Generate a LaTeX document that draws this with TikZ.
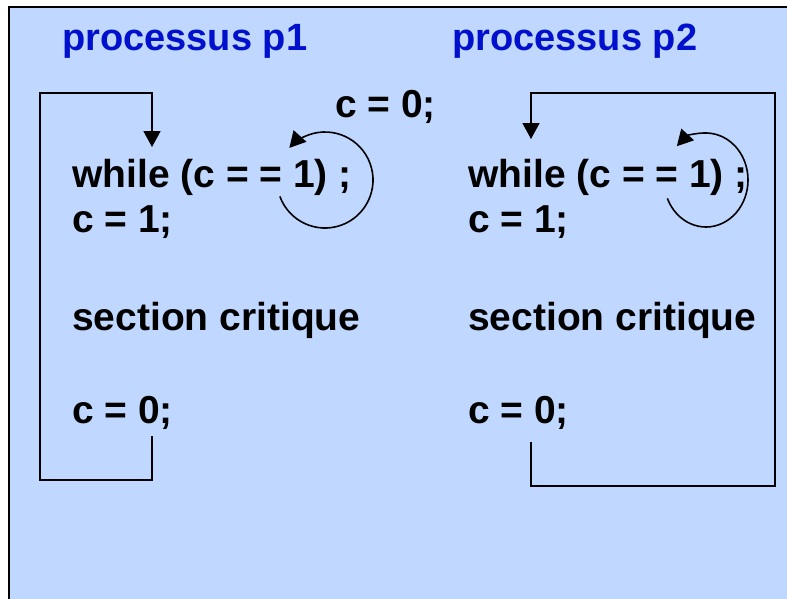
\documentclass[tikz,border=0pt]{standalone}
\usepackage{fontspec}
\setmainfont{Liberation Sans}
\usetikzlibrary{arrows.meta}
\definecolor{bgblue}{RGB}{192,216,255}
\definecolor{titleblue}{RGB}{0,16,204}
\begin{document}
\begin{tikzpicture}[x=1pt,y=-1pt,
  code/.style={anchor=base west,inner sep=0pt,font=\fontsize{39}{45}\selectfont\bfseries},
  title/.style={code,text=titleblue,font=\fontsize{38}{44}\selectfont\bfseries},
  loopline/.style={line width=1.6pt},
  tip/.style={-{Triangle[length=16pt,width=17pt]}}]
\clip (0,0) rectangle (787,598);
\fill[bgblue] (9,7) rectangle (800,610);
\draw[line width=1.5pt] (9,620) -- (9,7) -- (800,7);

% titles and shared variable
\node[title] (t1) at (62,50) {processus p1};
\node[title] (t2) at (452,50) {processus p2};
\node[code] (init) at (335,117) {c = 0;};

% process p1
\node[code] (w1) at (72,187) {while (c = = 1) ;};
\node[code] (s1) at (72,232) {c = 1;};
\node[code] (cs1) at (72,330) {section critique};
\node[code] (r1) at (72,423) {c = 0;};

% process p2
\node[code] (w2) at (468,187) {while (c = = 1) ;};
\node[code] (s2) at (468,232) {c = 1;};
\node[code] (cs2) at (468,330) {section critique};
\node[code] (r2) at (468,423) {c = 0;};

% loops back to the while
\coordinate (out1) at (152,436);
\coordinate (in1) at (152,147);
\coordinate (out2) at (531,442);
\coordinate (in2) at (531,139);
\draw[loopline,tip] (out1) |- (40,480) |- (in1 |- 0,93) -- (in1);
\draw[loopline,tip] (out2) |- (775,486) |- (in2 |- 0,93) -- (in2);

% busy waiting
\draw[loopline,tip] ([shift={(160:48)}]325,180) arc[start angle=160,end angle=-138,radius=48];
\draw[loopline,tip] ([shift={(157:42 and 47)}]706,180) arc[start angle=157,end angle=-134,x radius=42,y radius=47];
\end{tikzpicture}
\end{document}
